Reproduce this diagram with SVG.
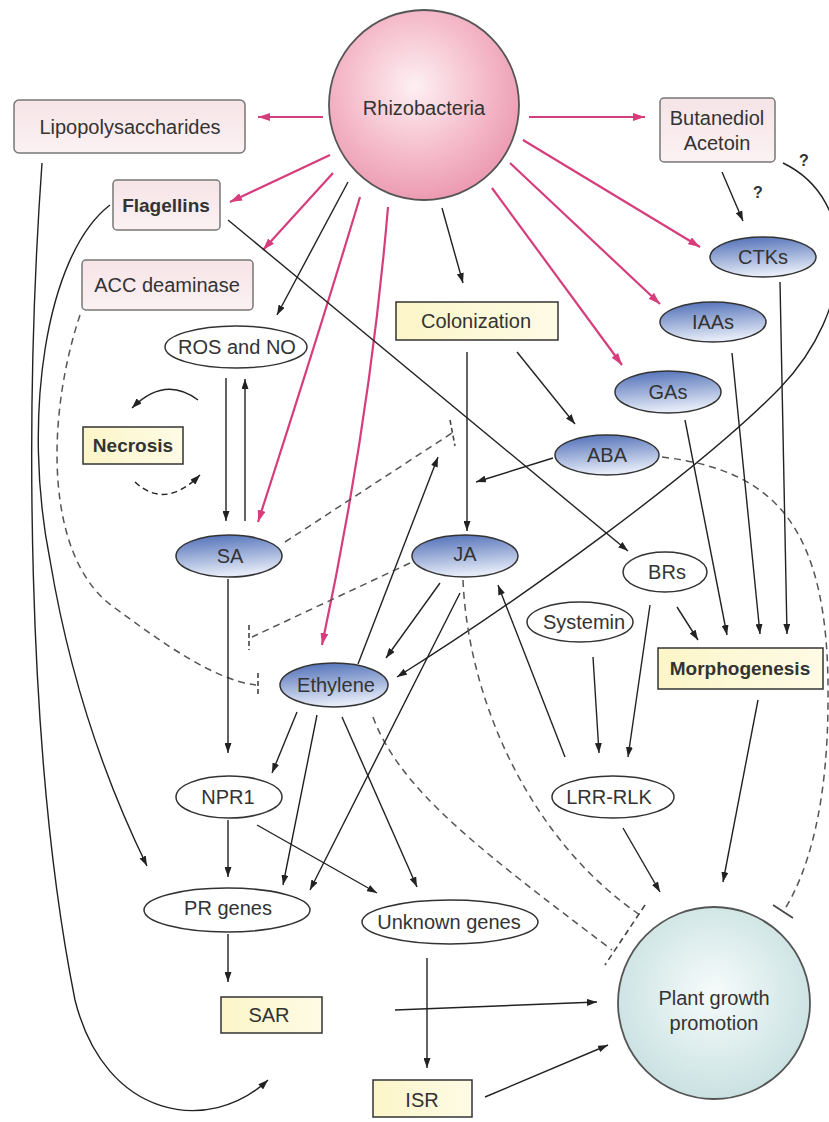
<svg xmlns="http://www.w3.org/2000/svg" width="829" height="1122" viewBox="0 0 829 1122">
<defs>
<radialGradient id="gPink" cx="0.45" cy="0.4" r="0.6">
<stop offset="0" stop-color="#fdf0f3"/><stop offset="0.6" stop-color="#f5bccb"/><stop offset="1" stop-color="#ec9bb2"/>
</radialGradient>
<radialGradient id="gTeal" cx="0.5" cy="0.45" r="0.6">
<stop offset="0" stop-color="#f6fbfb"/><stop offset="1" stop-color="#c6dfdf"/>
</radialGradient>
<linearGradient id="gBlue" x1="0" y1="0" x2="0.2" y2="1">
<stop offset="0" stop-color="#4c6cb6"/><stop offset="1" stop-color="#e4eaf7"/>
</linearGradient>
<linearGradient id="gBoxPink" x1="0" y1="0" x2="0" y2="1">
<stop offset="0" stop-color="#f6e4e7"/><stop offset="1" stop-color="#fbf1f3"/>
</linearGradient>
<linearGradient id="gYellow" x1="0" y1="0" x2="1" y2="0">
<stop offset="0" stop-color="#fcf5c8"/><stop offset="1" stop-color="#fefbe6"/>
</linearGradient>
<marker id="ak" viewBox="0 0 10 7" refX="10" refY="3.5" markerWidth="10" markerHeight="7" markerUnits="userSpaceOnUse" orient="auto">
<path d="M0,0 L10,3.5 L0,7 z" fill="#222"/>
</marker>
<marker id="ap" viewBox="0 0 12 8" refX="12" refY="4" markerWidth="12" markerHeight="8" markerUnits="userSpaceOnUse" orient="auto">
<path d="M0,0 L12,4 L0,8 z" fill="#d63d7c"/>
</marker>
</defs>
<style>
text{font-family:'Liberation Sans',Arial,sans-serif;font-size:20px;fill:#333;text-anchor:middle}
.b{font-weight:bold}
.pbox{fill:url(#gBoxPink);stroke:#777;stroke-width:1.5}
.ybox{fill:url(#gYellow);stroke:#333;stroke-width:1.5}
.bell{fill:url(#gBlue);stroke:#333;stroke-width:1.5}
.well{fill:#fff;stroke:#333;stroke-width:1.5}
.pk{fill:none;stroke:#d63d7c;stroke-width:2.2;marker-end:url(#ap)}
.k{fill:none;stroke:#222;stroke-width:1.4;marker-end:url(#ak)}
.kn{fill:none;stroke:#222;stroke-width:1.4}
.d{fill:none;stroke:#555;stroke-width:1.5;stroke-dasharray:7 5}
.bar{fill:none;stroke:#444;stroke-width:1.6}
.q{font-size:16px;font-weight:bold;fill:#333}
</style>
<rect width="829" height="1122" fill="#fff"/>

<g id="connectors">
<path class="pk" d="M323,117 L258,117"/>
<path class="pk" d="M529,117 L645,117"/>
<path class="pk" d="M330,155 L230,202"/>
<path class="pk" d="M333,173 L263,250"/>
<path class="pk" d="M360,197 Q320,330 258,522"/>
<path class="pk" d="M388,207 Q370,420 322,645"/>
<path class="pk" d="M523,140 L700,247"/>
<path class="pk" d="M510,163 L660,304"/>
<path class="pk" d="M492,188 L622,365"/>

<path class="k" d="M348,182 L277,315"/>
<path class="k" d="M442,208 L463,283"/>
<path class="k" d="M722,172 L743,221"/>
<text class="q" x="758" y="198">?</text>
<path class="k" d="M783,163 C860,200 855,310 780,388 C700,470 520,600 397,677"/>
<text class="q" x="804" y="166">?</text>
<path class="k" d="M228,220 L628,551"/>
<path class="k" d="M110,205 C45,255 22,420 50,560 C70,680 105,780 147,866"/>
<path class="k" d="M42,163 C25,400 25,750 75,1000 C105,1120 210,1135 268,1080"/>

<path class="d" d="M80,315 C45,420 45,560 115,608 C165,645 215,680 256,685"/>
<path class="bar" d="M258,673 L258,697" stroke-dasharray="5 3"/>
<path class="d" d="M285,542 L452,433"/>
<path class="bar" d="M450,420 L455,446" stroke-dasharray="5 3"/>
<path class="d" d="M410,563 L252,637"/>
<path class="bar" d="M249,625 L249,650" stroke-dasharray="5 3"/>
<path class="d" d="M373,717 C400,790 480,850 612,950"/>
<path class="d" d="M463,580 C468,700 530,840 640,915"/>
<path class="bar" d="M645,905 L605,965" stroke-dasharray="6 4"/>
<path class="d" d="M662,457 C770,470 830,520 828,700 C828,800 810,870 783,912"/>
<path class="bar" d="M773,905 L793,918"/>

<path class="k" d="M467,352 L467,531"/>
<path class="k" d="M517,352 L575,424"/>
<path class="k" d="M226,378 L226,521"/>
<path class="k" d="M245,521 L245,379"/>
<path class="k" d="M198,400 Q165,375 132,408"/>
<path class="k" d="M135,482 Q165,510 200,475" stroke-dasharray="6 4"/>
<path class="k" d="M228,579 L228,753"/>
<path class="k" d="M228,820 L228,877"/>
<path class="k" d="M228,934 L228,982"/>
<path class="k" d="M257,825 L377,893"/>
<path class="k" d="M297,712 L272,773"/>
<path class="k" d="M317,715 L283,885"/>
<path class="k" d="M460,593 L310,890"/>
<path class="k" d="M440,583 L386,658"/>
<path class="k" d="M358,664 L438,457"/>
<path class="k" d="M553,458 L476,482"/>
<path class="k" d="M565,757 L498,585"/>
<path class="k" d="M342,717 L417,887"/>
<path class="k" d="M685,420 L727,635"/>
<path class="k" d="M732,353 L760,634"/>
<path class="k" d="M780,282 L787,634"/>
<path class="k" d="M677,607 L698,640"/>
<path class="k" d="M650,605 L628,757"/>
<path class="k" d="M593,657 L599,753"/>
<path class="k" d="M758,700 L723,882"/>
<path class="k" d="M623,828 L660,892"/>
<path class="k" d="M395,1010 L597,1002"/>
<path class="k" d="M427,958 L427,1068"/>
<path class="k" d="M485,1097 L608,1045"/>
</g>

<g id="rhizobacteria">
<circle cx="424" cy="105" r="95" fill="url(#gPink)" stroke="#555" stroke-width="1.8"/>
<text x="424" y="115">Rhizobacteria</text>
</g>
<g id="lipopolysaccharides">
<rect class="pbox" x="14" y="100" width="231" height="53" rx="5"/>
<text x="130" y="134">Lipopolysaccharides</text>
</g>
<g id="flagellins">
<rect class="pbox" x="113" y="180" width="107" height="50" rx="4"/>
<text class="b" x="166" y="212" style="font-size:19px">Flagellins</text>
</g>
<g id="acc-deaminase">
<rect class="pbox" x="82" y="260" width="171" height="50" rx="4"/>
<text x="167" y="292">ACC deaminase</text>
</g>
<g id="butanediol-acetoin">
<rect class="pbox" x="660" y="98" width="115" height="64" rx="4"/>
<text x="717" y="125">Butanediol</text>
<text x="717" y="150">Acetoin</text>
</g>
<g id="ctks">
<ellipse class="bell" cx="763" cy="257" rx="53" ry="20"/>
<text x="763" y="264">CTKs</text>
</g>
<g id="iaas">
<ellipse class="bell" cx="713" cy="322" rx="53" ry="20"/>
<text x="713" y="329">IAAs</text>
</g>
<g id="gas">
<ellipse class="bell" cx="668" cy="392" rx="53" ry="21"/>
<text x="668" y="399">GAs</text>
</g>
<g id="aba">
<ellipse class="bell" cx="607" cy="455" rx="52" ry="20"/>
<text x="607" y="462">ABA</text>
</g>
<g id="colonization">
<rect class="ybox" x="396" y="302" width="162" height="38"/>
<text x="476" y="328">Colonization</text>
</g>
<g id="ros-no">
<ellipse class="well" cx="236" cy="347" rx="71" ry="21"/>
<text x="237" y="354">ROS and NO</text>
</g>
<g id="necrosis">
<rect class="ybox" x="83" y="427" width="100" height="37"/>
<text class="b" x="133" y="452" style="font-size:19px">Necrosis</text>
</g>
<g id="sa">
<ellipse class="bell" cx="229" cy="556" rx="53" ry="21"/>
<text x="230" y="563">SA</text>
</g>
<g id="ja">
<ellipse class="bell" cx="465" cy="556" rx="53" ry="21"/>
<text x="465" y="561">JA</text>
</g>
<g id="brs">
<ellipse class="well" cx="665" cy="572" rx="42" ry="20"/>
<text x="667" y="579">BRs</text>
</g>
<g id="systemin">
<ellipse class="well" cx="580" cy="622" rx="53" ry="20"/>
<text x="584" y="629">Systemin</text>
</g>
<g id="morphogenesis">
<rect class="ybox" x="658" y="648" width="165" height="41"/>
<text class="b" x="740" y="675" style="font-size:19px">Morphogenesis</text>
</g>
<g id="ethylene">
<ellipse class="bell" cx="334" cy="685" rx="54" ry="22"/>
<text x="336" y="692">Ethylene</text>
</g>
<g id="npr1">
<ellipse class="well" cx="229" cy="797" rx="53" ry="21"/>
<text x="228" y="804">NPR1</text>
</g>
<g id="lrr-rlk">
<ellipse class="well" cx="613" cy="797" rx="61" ry="21"/>
<text x="609" y="804">LRR-RLK</text>
</g>
<g id="pr-genes">
<ellipse class="well" cx="227" cy="910" rx="83" ry="22"/>
<text x="228" y="915">PR genes</text>
</g>
<g id="unknown-genes">
<ellipse class="well" cx="450" cy="922" rx="88" ry="22"/>
<text x="449" y="929">Unknown genes</text>
</g>
<g id="sar">
<rect class="ybox" x="221" y="997" width="101" height="36"/>
<text x="269" y="1022">SAR</text>
</g>
<g id="isr">
<rect class="ybox" x="373" y="1080" width="99" height="37"/>
<text x="422" y="1107">ISR</text>
</g>
<g id="plant-growth-promotion">
<circle cx="714" cy="1003" r="96" fill="url(#gTeal)" stroke="#555" stroke-width="1.8"/>
<text x="714" y="1005">Plant growth</text>
<text x="714" y="1030">promotion</text>
</g>
</svg>
